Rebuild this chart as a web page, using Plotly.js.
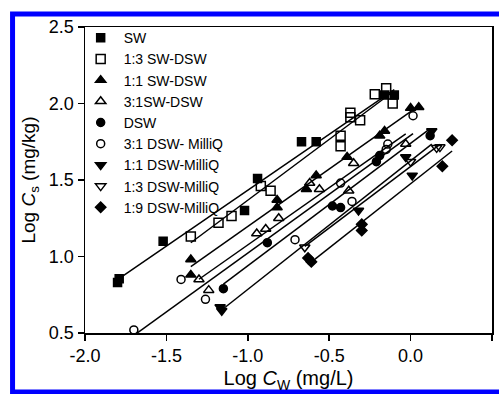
<!DOCTYPE html>
<html>
<head>
<meta charset="utf-8">
<script src="https://cdn.plot.ly/plotly-3.0.1.min.js"></script>
<style>html,body{margin:0;padding:0;background:#fff;}#chart{width:499px;height:394px;}</style>
</head>
<body>
<div id="chart"></div>
<script>
// Series names (legend order)
var seriesNames = ["SW", "1:3 SW-DSW", "1:1 SW-DSW", "3:1SW-DSW", "DSW",
  "3:1 DSW- MilliQ", "1:1 DSW-MilliQ", "1:3 DSW-MilliQ", "1:9 DSW-MilliQ"];

// Log Cw (x) and Log Cs (y) per series
var swX   = [-1.80, -1.79, -1.52, -1.02, -0.94, -0.67, -0.58, -0.16, -0.10];
var swY   = [0.83, 0.855, 1.10, 1.30, 1.51, 1.75, 1.75, 2.055, 2.055];

var sw13X = [-1.35, -1.18, -1.10, -0.92, -0.86, -0.43, -0.43, -0.37, -0.37, -0.31, -0.22, -0.15, -0.11];
var sw13Y = [1.13, 1.22, 1.265, 1.46, 1.43, 1.79, 1.72, 1.94, 1.91, 1.89, 2.06, 2.10, 2.00];

var sw11X = [-1.35, -1.35, -0.82, -0.82, -0.64, -0.58, -0.39, -0.19, -0.16, 0.00, 0.05];
var sw11Y = [0.98, 0.88, 1.37, 1.32, 1.44, 1.53, 1.65, 1.79, 1.82, 1.97, 1.975];

var sw31X = [-1.30, -1.24, -0.945, -0.89, -0.81, -0.62, -0.56, -0.38, -0.35, -0.03];
var sw31Y = [0.85, 0.78, 1.15, 1.18, 1.25, 1.48, 1.44, 1.43, 1.61, 1.735];

var dswX  = [-1.15, -0.88, -0.48, -0.43, -0.21, -0.19, 0.12];
var dswY  = [0.79, 1.09, 1.33, 1.32, 1.62, 1.66, 1.79];

var dm31X = [-1.70, -1.41, -1.26, -0.71, -0.43, -0.36, -0.15, -0.14, 0.015];
var dm31Y = [0.52, 0.85, 0.72, 1.11, 1.48, 1.36, 1.70, 1.735, 1.92];

var dm11X = [-1.17, -1.16, -0.32, -0.03, 0.01, 0.13];
var dm11Y = [0.67, 0.645, 1.30, 1.65, 1.53, 1.82];

var dm13X = [-0.65, 0.00, 0.16, 0.18];
var dm13Y = [1.06, 1.62, 1.71, 1.715];

var dm19X = [-0.63, -0.61, -0.30, -0.30, 0.195, 0.255];
var dm19Y = [0.99, 0.965, 1.21, 1.17, 1.59, 1.76];

var allX = [swX, sw13X, sw11X, sw31X, dswX, dm31X, dm11X, dm13X, dm19X];
var allY = [swY, sw13Y, sw11Y, sw31Y, dswY, dm31Y, dm11Y, dm13Y, dm19Y];

var symbols = ["square", "square-open", "triangle-up", "triangle-up-open", "circle",
  "circle-open", "triangle-down", "triangle-down-open", "diamond"];
var sizes = [8, 9, 9, 9, 8, 8, 9, 9, 8];

var xTicks = [-2.0, -1.5, -1.0, -0.5, 0.0, 0.5];
var yTicks = [0.5, 1.0, 1.5, 2.0, 2.5];

function fit(xs, ys) {
  var n = xs.length, sx = 0, sy = 0, sxx = 0, sxy = 0;
  for (var i = 0; i < n; i++) { sx += xs[i]; sy += ys[i]; sxx += xs[i]*xs[i]; sxy += xs[i]*ys[i]; }
  var b = (n*sxy - sx*sy) / (n*sxx - sx*sx);
  var a = (sy - b*sx) / n;
  return {a: a, b: b};
}

var traces = [];
// regression lines
for (var k = 0; k < allX.length; k++) {
  var f = fit(allX[k], allY[k]);
  var x0 = Math.min.apply(null, allX[k]), x1 = Math.max.apply(null, allX[k]);
  traces.push({
    x: [x0, x1], y: [f.a + f.b*x0, f.a + f.b*x1],
    mode: "lines", type: "scatter", showlegend: false, hoverinfo: "skip",
    line: {color: "#000", width: 1.5}
  });
}
// markers
for (var k = 0; k < allX.length; k++) {
  traces.push({
    x: allX[k], y: allY[k], name: seriesNames[k],
    mode: "markers", type: "scatter",
    marker: {symbol: symbols[k], size: sizes[k], color: "#000",
      line: {color: "#000", width: 1.5}}
  });
}

var font = "Liberation Sans, Arial, Helvetica, sans-serif";
var layout = {
  width: 499, height: 394,
  margin: {l: 85, r: 7, t: 27, b: 61},
  paper_bgcolor: "#fff", plot_bgcolor: "#fff",
  font: {family: font, color: "#000", size: 18},
  showlegend: true,
  legend: {x: -0.018, y: 1.016, xanchor: "left", yanchor: "top",
    bgcolor: "rgba(0,0,0,0)", borderwidth: 0, itemwidth: 36,
    font: {family: font, size: 14, color: "#000"}, tracegroupgap: 0},
  xaxis: {
    range: [-2.0, 0.5], tickvals: xTicks, ticktext: xTicks.map(function(v){return v.toFixed(1);}),
    ticks: "outside", ticklen: 6, tickwidth: 1.5, tickcolor: "#000",
    showline: true, linecolor: "#000", linewidth: 1.5, mirror: true,
    showgrid: false, zeroline: false,
    tickfont: {family: font, size: 18, color: "#000"},
    title: {text: "Log <i>C</i><sub>W</sub> (mg/L)", font: {family: font, size: 20, color: "#000"}, standoff: 6}
  },
  yaxis: {
    range: [0.5, 2.5], tickvals: yTicks, ticktext: yTicks.map(function(v){return v.toFixed(1);}),
    ticks: "outside", ticklen: 6, tickwidth: 1.5, tickcolor: "#000",
    showline: true, linecolor: "#000", linewidth: 1.5, mirror: true,
    showgrid: false, zeroline: false,
    tickfont: {family: font, size: 18, color: "#000"},
    title: {text: "Log <i>C</i><sub>s</sub> (mg/kg)", font: {family: font, size: 19, color: "#000"}, standoff: 8}
  },
  shapes: [{
    type: "rect", xref: "paper", yref: "paper",
    x0: -0.178, x1: 1.04, y0: -0.193, y1: 1.0425,
    line: {color: "#0000ff", width: 5}, fillcolor: "rgba(0,0,0,0)", layer: "above"
  }]
};

Plotly.newPlot("chart", traces, layout, {displayModeBar: false, staticPlot: true});
</script>
</body>
</html>
